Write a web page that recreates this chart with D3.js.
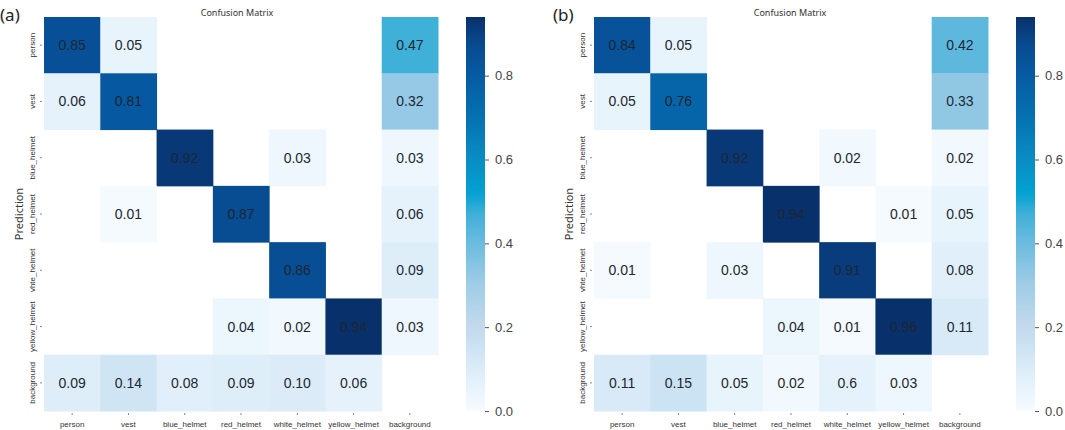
<!DOCTYPE html>
<html>
<head>
<meta charset="utf-8">
<script src="https://cdn.jsdelivr.net/npm/d3@7"></script>
<style>
  html, body { margin: 0; padding: 0; background: #ffffff; }
  svg { display: block; font-family: "Noto Sans", "DejaVu Sans", sans-serif; }
</style>
</head>
<body>
<svg id="chart" width="1065" height="430"></svg>
<script>
// ---- data ----
const classes = ["person", "vest", "blue_helmet", "red_helmet", "white_helmet", "yellow_helmet", "background"];
const rowTickLabels = ["person", "vest", "blue_helmet", "red_helmet", "vhte_helmet", "yellow_helmet", "background"];
const colTickLabels = ["person", "vest", "blue_helmet", "red_helmet", "white_helmet", "yellow_helmet", "background"];
const panelTags = ["(a)", "(b)"];
const titleText = "Confusion Matrix";
const yAxisTitle = "Prediction";
const colorbarTicks = [0.0, 0.2, 0.4, 0.6, 0.8];

// rows = prediction, columns = true class; null = empty cell
const valuesA = [
  [0.85, 0.05, null, null, null, null, 0.47],
  [0.06, 0.81, null, null, null, null, 0.32],
  [null, null, 0.92, null, 0.03, null, 0.03],
  [null, 0.01, null, 0.87, null, null, 0.06],
  [null, null, null, null, 0.86, null, 0.09],
  [null, null, null, 0.04, 0.02, 0.94, 0.03],
  [0.09, 0.14, 0.08, 0.09, 0.10, 0.06, null]
];
const valuesB = [
  [0.84, 0.05, null, null, null, null, 0.42],
  [0.05, 0.76, null, null, null, null, 0.33],
  [null, null, 0.92, null, 0.02, null, 0.02],
  [null, null, null, 0.94, null, 0.01, 0.05],
  [0.01, null, 0.03, null, 0.91, null, 0.08],
  [null, null, null, 0.04, 0.01, 0.96, 0.11],
  [0.11, 0.15, 0.05, 0.02, 0.06, 0.03, null]
];
// text printed in the original where it differs from the cell value
const labelOverridesB = { "6,4": "0.6" };

// colormap stops (value -> colour)
const cmapStops = [0.00, 0.05, 0.10, 0.15, 0.20, 0.30, 0.40, 0.47, 0.52, 0.60, 0.70, 0.80, 0.87, 0.94];
const cmapColors = ["#f7fcff", "#e8f4fc", "#dbecf8", "#cce3f3", "#c4d9ed", "#a0cde6", "#6bbbe0", "#3fb0d8",
                    "#02a2d2", "#0a8cc4", "#0572b2", "#065ba2", "#084c92", "#08306b"];

// ---- drawing ----
const svg = d3.select("#chart");
const color = d3.scaleLinear().domain(cmapStops).range(cmapColors).interpolate(d3.interpolateRgb).clamp(true);

const panels = [
  { values: valuesA, overrides: {}, tag: panelTags[0], x0: 44, tagX: 0, cbX: 466, vmax: 0.94, titleDx: -4 },
  { values: valuesB, overrides: labelOverridesB, tag: panelTags[1], x0: 594, tagX: 553, cbX: 1016, vmax: 0.94, titleDx: -1 }
];

const plotTop = 17, plotSize = 394;
const numFont = "Liberation Sans, Arial, sans-serif";

panels.forEach(p => {
  const g = svg.append("g");
  const x = d3.scaleBand().domain(d3.range(classes.length)).range([p.x0, p.x0 + plotSize]);
  const y = d3.scaleBand().domain(d3.range(classes.length)).range([plotTop, plotTop + plotSize]);

  const cells = [];
  p.values.forEach((row, i) => row.forEach((v, j) => {
    if (v !== null) cells.push({ i, j, v, label: p.overrides[i + "," + j] || d3.format(".2f")(v) });
  }));

  g.selectAll("rect.cell").data(cells).join("rect")
    .attr("class", "cell")
    .attr("x", d => x(d.j)).attr("y", d => y(d.i))
    .attr("width", x.bandwidth() + 0.5).attr("height", y.bandwidth() + 0.5)
    .attr("fill", d => color(d.v));

  g.selectAll("text.val").data(cells).join("text")
    .attr("class", "val")
    .attr("x", d => x(d.j) + x.bandwidth() / 2)
    .attr("y", d => y(d.i) + y.bandwidth() / 2 + 5)
    .attr("text-anchor", "middle")
    .attr("font-family", numFont)
    .attr("font-size", 14).attr("fill", "#1c2733")
    .text(d => d.label);

  // x axis
  const xAxis = d3.axisBottom(x).tickSize(2).tickPadding(8).tickFormat(i => colTickLabels[i]);
  const gx = g.append("g").attr("transform", `translate(0,${plotTop + plotSize})`).call(xAxis);
  gx.select(".domain").remove();
  gx.selectAll("line").attr("stroke", "#888").attr("transform", "translate(0,2)");
  gx.selectAll("text").attr("font-size", 8).attr("fill", "#333");

  // y axis (rotated labels)
  const yAxis = d3.axisLeft(y).tickSize(2).tickPadding(0).tickFormat(i => rowTickLabels[i]);
  const gy = g.append("g").attr("transform", `translate(${p.x0},0)`).call(yAxis);
  gy.select(".domain").remove();
  gy.selectAll("line").attr("stroke", "#888").attr("transform", "translate(-2,0)");
  gy.selectAll("text")
    .attr("font-size", 8).attr("fill", "#333")
    .attr("x", null).attr("dy", null)
    .attr("text-anchor", "middle")
    .attr("transform", "translate(-9,0) rotate(-90)");

  // y axis title
  g.append("text")
    .attr("transform", `translate(${p.x0 - 21},${plotTop + plotSize / 2}) rotate(-90)`)
    .attr("text-anchor", "middle").attr("font-size", 11).attr("fill", "#333")
    .text(yAxisTitle);

  // title
  g.append("text")
    .attr("x", p.x0 + plotSize / 2 + p.titleDx).attr("y", 16)
    .attr("text-anchor", "middle").attr("font-size", 9).attr("fill", "#333")
    .text(titleText);

  // panel tag
  g.append("text")
    .attr("x", p.tagX).attr("y", 21)
    .attr("font-size", 17).attr("fill", "#222")
    .text(p.tag);

  // colorbar
  const cbW = 19;
  const cScale = d3.scaleLinear().domain([0, p.vmax]).range([plotTop + plotSize, plotTop]);
  const gradId = "grad" + p.tag.replace(/[()]/g, "");
  const grad = svg.append("defs").append("linearGradient")
    .attr("id", gradId).attr("x1", 0).attr("y1", 1).attr("x2", 0).attr("y2", 0);
  d3.range(0, 1.0001, 0.02).forEach(t => {
    grad.append("stop").attr("offset", t).attr("stop-color", color(t * p.vmax));
  });
  g.append("rect")
    .attr("x", p.cbX).attr("y", plotTop).attr("width", cbW).attr("height", plotSize)
    .attr("fill", `url(#${gradId})`);
  const cAxis = d3.axisRight(cScale).tickValues(colorbarTicks).tickSize(4).tickPadding(6).tickFormat(d3.format(".1f"));
  const gc = g.append("g").attr("transform", `translate(${p.cbX + cbW},0)`).call(cAxis);
  gc.select(".domain").remove();
  gc.selectAll("line").attr("stroke", "#555");
  gc.selectAll("text").attr("font-family", numFont).attr("font-size", 13).attr("fill", "#444");
});
</script>
</body>
</html>
